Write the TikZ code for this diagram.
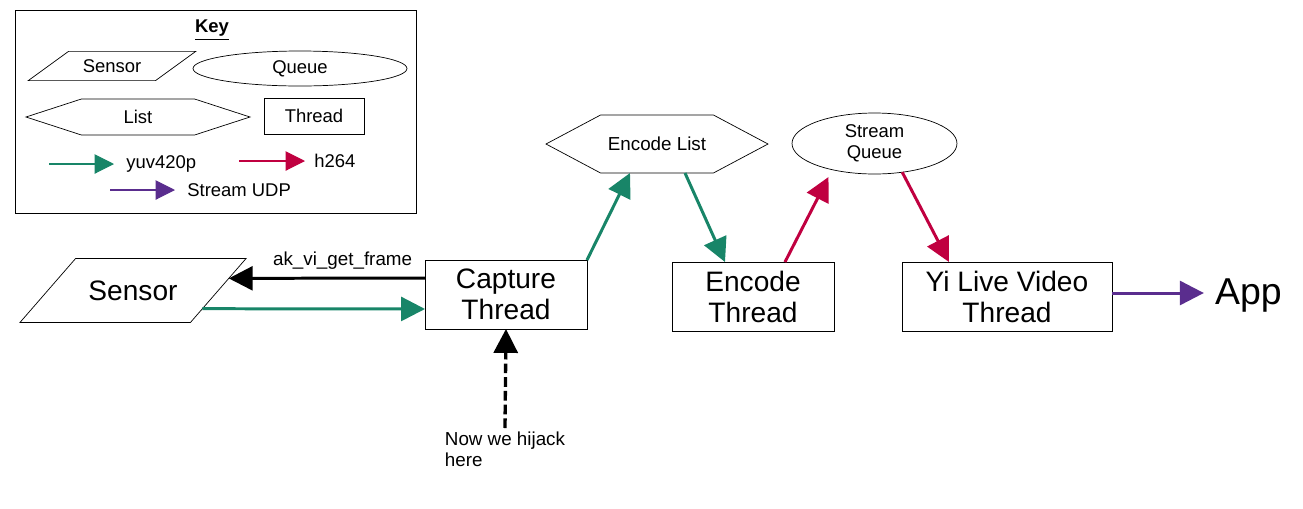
\documentclass[tikz,border=0pt]{standalone}
\usepackage{fontspec}
\setmainfont{Liberation Sans}
\usetikzlibrary{shapes.geometric,shapes.symbols,arrows.meta,calc}

\definecolor{yuvgreen}{RGB}{24,133,104}
\definecolor{hred}{RGB}{192,0,64}
\definecolor{udppurple}{RGB}{90,45,142}

\tikzset{
  thread/.style={draw, rectangle, inner sep=0pt, outer sep=0pt, align=center,
    font=\fontsize{16}{17.6}\selectfont},
  sensorbox/.style={draw, trapezium, trapezium stretches body,
    trapezium left angle=49, trapezium right angle=131, inner xsep=0pt, outer sep=0pt},
  listbox/.style={draw, signal, signal to=west and east, signal pointer angle=56,
    inner sep=0pt, outer sep=0pt},
  queue/.style={draw, ellipse, inner sep=0pt, outer sep=0pt, align=center},
  keytext/.style={font=\fontsize{10.5}{12}\selectfont},
  smalltext/.style={font=\fontsize{10.7}{11.9}\selectfont},
  flow/.style={line width=1.7pt, -{Triangle[length=13.6pt,width=13.6pt]}},
  keyflow/.style={line width=0.6pt, -{Triangle[length=11pt,width=11pt]}},
}

\begin{document}
\begin{tikzpicture}[x=0.02cm, y=-0.02cm]
  \useasboundingbox (0,0) rectangle (1303,508);

  % key
  \node[draw, minimum width=8.02cm, minimum height=4.06cm, inner sep=0pt] (keybox) at (215.5,111.5) {};
  \node[font=\fontsize{10.5}{12}\selectfont\bfseries] (keytitle) at (212,30) {\underline{Key}};
  \node[sensorbox, keytext, trapezium left angle=36, trapezium right angle=144,
    minimum width=3.35cm, inner ysep=4.6pt] (keysensor) at (112,66) {Sensor};
  \node[queue, keytext, minimum width=4.28cm, minimum height=0.7cm] (keyqueue) at (300,68.5) {Queue};
  \node[listbox, keytext, signal pointer angle=36, minimum width=4.48cm, minimum height=0.72cm] (keylist) at (138,117) {List};
  \node[thread, keytext, minimum width=2cm, minimum height=0.72cm] (keythread) at (314,116) {Thread};

  \coordinate (yuvtail) at (49,164);
  \node[keytext, anchor=west, inner sep=0pt] (yuvlabel) at (126,164) {yuv420p};
  \draw[keyflow, yuvgreen] (yuvtail) -- ([xshift=-0.24cm]yuvlabel.west);
  \coordinate (htail) at (239,161);
  \node[keytext, anchor=west, inner sep=0pt] (hlabel) at (314,161) {h264};
  \draw[keyflow, hred] (htail) -- ([xshift=-0.18cm]hlabel.west);
  \coordinate (udptail) at (110,190);
  \node[keytext, anchor=west, inner sep=0pt] (udplabel) at (187,190) {Stream UDP};
  \draw[keyflow, udppurple] (udptail) -- ([xshift=-0.24cm]udplabel.west);

  % pipeline
  \node[sensorbox, font=\fontsize{16}{17.6}\selectfont, minimum width=4.52cm, inner ysep=12.5pt] (sensor) at (133,290.5) {Sensor};
  \node[thread, minimum width=3.24cm, minimum height=1.38cm] (capture) at (506,294.5) {Capture\\Thread};
  \node[listbox, smalltext, minimum width=4.44cm, minimum height=1.16cm] (enclist) at (657,144) {Encode List};
  \node[thread, minimum width=3.24cm, minimum height=1.38cm] (encthr) at (753,296.5) {Encode\\Thread};
  \node[queue, font=\fontsize{10.5}{11.9}\selectfont, minimum width=3.3cm, minimum height=1.22cm] (squeue) at (874.5,143.5) {Stream\\Queue};
  \node[thread, minimum width=4.2cm, minimum height=1.38cm] (yithr) at (1007,296.5) {Yi Live Video\\Thread};
  \node[font=\fontsize{21.3}{24}\selectfont, inner sep=0pt] (app) at (1248.5,296) {App};
  \node[smalltext, align=left, anchor=north, inner sep=2pt] (hijack) at (505,428) {Now we hijack\\here};

  \draw[flow] ([yshift=0.33cm]capture.west)
    -- ($(sensor.top right corner)!0.31!(sensor.bottom right corner)$)
    node[pos=0.42, above=1pt, smalltext] {ak\_vi\_get\_frame};
  \draw[flow, yuvgreen] ($(sensor.top right corner)!0.785!(sensor.bottom right corner)$)
    -- ([yshift=-0.29cm]capture.west);
  \draw[flow, line width=1.9pt, dash pattern=on 5.5pt off 2.3pt] (hijack.north) -- (capture.south);
  \draw[flow, yuvgreen] (capture.north east) -- ([xshift=-0.54cm]enclist.south);
  \draw[flow, yuvgreen] ([xshift=0.56cm]enclist.south) -- ([xshift=-0.56cm]encthr.north);
  \draw[flow, hred] ([xshift=0.64cm]encthr.north) -- ([xshift=-0.92cm,yshift=-0.06cm]squeue.south);
  \draw[flow, hred] (squeue.-46) -- ([xshift=-1.16cm]yithr.north);
  \draw[flow, udppurple, shorten >=0.22cm] ([yshift=0.07cm]yithr.east) -- ([yshift=0.07cm]yithr.east -| app.west);
\end{tikzpicture}
\end{document}
